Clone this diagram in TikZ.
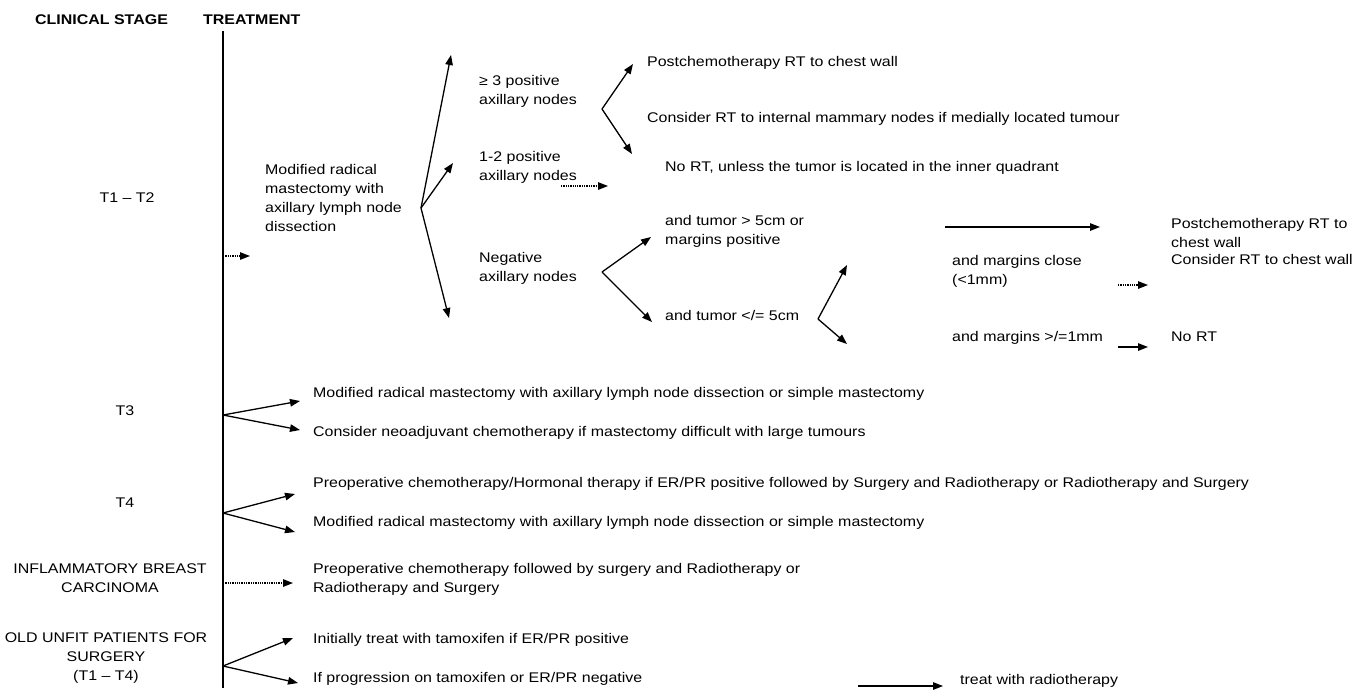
\documentclass[tikz,border=0pt]{standalone}
\usepackage{fontspec}
\setmainfont[FakeStretch=1.14]{Liberation Sans}
\usetikzlibrary{arrows.meta}
\begin{document}
\begin{tikzpicture}[x=1pt,y=-1pt,
  txt/.style={font=\fontsize{14}{19}\selectfont, inner sep=0pt, anchor=west, align=left},
  one/.style={font=\fontsize{14}{19}\selectfont, inner sep=0pt, anchor=west, text height=10pt, text depth=3.5pt},
  hdr/.style={font=\fontsize{14}{19}\selectfont\bfseries, inner sep=0pt, anchor=west, text height=10pt, text depth=3.5pt},
  stage/.style={font=\fontsize{14}{19}\selectfont, inner sep=0pt, align=center},
  arr/.style={line width=1.3pt, -{Triangle[length=10pt,width=7.5pt]}},
  darr/.style={line width=1.3pt, densely dotted, -{Triangle[length=10pt,width=7.5pt]}},
  axis/.style={line width=1.5pt}
]
\useasboundingbox (0,0) rectangle (1365,689);

% headers and stages
\node[hdr] (hstage) at (35,21) {CLINICAL STAGE};
\node[hdr] (htreat) at (203,21) {TREATMENT};
\node[stage] (t12) at (127,198) {T1 – T2};
\node[stage] (t3) at (125,411) {T3};
\node[stage] (t4) at (125,503) {T4};
\node[stage] (ibc) at (110,578) {INFLAMMATORY BREAST\\CARCINOMA};
\node[stage] (old) at (106,658) {OLD UNFIT PATIENTS FOR\\SURGERY\\(T1 – T4)};

% T1-T2 branch texts
\node[txt] (mrm) at (265,198) {Modified radical\\mastectomy with\\axillary lymph node\\dissection};
\node[txt] (pos3) at (479,91) {≥ 3 positive\\axillary nodes};
\node[txt] (pos12) at (479,167.5) {1-2 positive\\axillary nodes};
\node[txt] (neg) at (479,268.5) {Negative\\axillary nodes};
\node[one] (post1) at (647,63) {Postchemotherapy RT to chest wall};
\node[one] (cons1) at (647,119) {Consider RT to internal mammary nodes if medially located tumour};
\node[one] (nort1) at (665,168) {No RT, unless the tumor is located in the inner quadrant};
\node[txt] (gt5) at (665,231) {and tumor > 5cm or\\margins positive};
\node[one] (le5) at (665,317) {and tumor </= 5cm};
\node[txt] (post2) at (1171,233) {Postchemotherapy RT to\\chest wall};
\node[txt] (close) at (952,271) {and margins close\\(<1mm)};
\node[one] (cons2) at (1171,261) {Consider RT to chest wall};
\node[one] (ge1) at (952,338) {and margins >/=1mm};
\node[one] (nort2) at (1171,338) {No RT};

% lower texts
\node[one] (t3a) at (313,394) {Modified radical mastectomy with axillary lymph node dissection or simple mastectomy};
\node[one] (t3b) at (313,433) {Consider neoadjuvant chemotherapy if mastectomy difficult with large tumours};
\node[one] (t4a) at (313,484) {Preoperative chemotherapy/Hormonal therapy if ER/PR positive followed by Surgery and Radiotherapy or Radiotherapy and Surgery};
\node[one] (t4b) at (313,523) {Modified radical mastectomy with axillary lymph node dissection or simple mastectomy};
\node[txt] (ibct) at (313,579) {Preoperative chemotherapy followed by surgery and Radiotherapy or\\Radiotherapy and Surgery};
\node[one] (old1) at (313,640) {Initially treat with tamoxifen if ER/PR positive};
\node[one] (old2) at (313,679) {If progression on tamoxifen or ER/PR negative};
\node[one] (radio) at (960,681) {treat with radiotherapy};

% coordinates
\coordinate (vtop) at (223,31);
\coordinate (vbot) at (223,688);
\coordinate (a0) at (223,256);  \coordinate (a0e) at (250,256);
\coordinate (f1) at (421,208);
\coordinate (f1a) at (451,55);  \coordinate (f1b) at (453,163); \coordinate (f1c) at (449,318);
\coordinate (f2) at (602,109);
\coordinate (f2a) at (633,64);  \coordinate (f2b) at (632,154);
\coordinate (d12) at (561,186); \coordinate (d12e) at (608,186);
\coordinate (f3) at (602,272);
\coordinate (f3a) at (651,237); \coordinate (f3b) at (652,322);
\coordinate (f4) at (818,319);
\coordinate (f4a) at (847,265); \coordinate (f4b) at (847,344);
\coordinate (lg) at (945,227);  \coordinate (lge) at (1100,227);
\coordinate (mc) at (1118,285); \coordinate (mce) at (1148,285);
\coordinate (mg) at (1118,347); \coordinate (mge) at (1148,347);
\coordinate (g3) at (223,415);
\coordinate (g3a) at (300,401); \coordinate (g3b) at (300,430);
\coordinate (g4) at (223,513);
\coordinate (g4a) at (295,494); \coordinate (g4b) at (295,532);
\coordinate (gi) at (223,583);  \coordinate (gie) at (293,583);
\coordinate (go) at (223,666);
\coordinate (goa) at (293,638); \coordinate (gob) at (298,683);
\coordinate (rt) at (858,686);  \coordinate (rte) at (943,686);

% connectors
\draw[axis] (vtop) -- (vbot);
\draw[darr] (a0) -- (a0e);
\draw[arr] (f1) -- (f1a);
\draw[arr] (f1) -- (f1b);
\draw[arr] (f1) -- (f1c);
\draw[arr] (f2) -- (f2a);
\draw[arr] (f2) -- (f2b);
\draw[darr] (d12) -- (d12e);
\draw[arr] (f3) -- (f3a);
\draw[arr] (f3) -- (f3b);
\draw[arr] (f4) -- (f4a);
\draw[arr] (f4) -- (f4b);
\draw[arr] (lg) -- (lge);
\draw[darr] (mc) -- (mce);
\draw[arr] (mg) -- (mge);
\draw[arr] (g3) -- (g3a);
\draw[arr] (g3) -- (g3b);
\draw[arr] (g4) -- (g4a);
\draw[arr] (g4) -- (g4b);
\draw[darr] (gi) -- (gie);
\draw[arr] (go) -- (goa);
\draw[arr] (go) -- (gob);
\draw[arr] (rt) -- (rte);
\end{tikzpicture}
\end{document}
